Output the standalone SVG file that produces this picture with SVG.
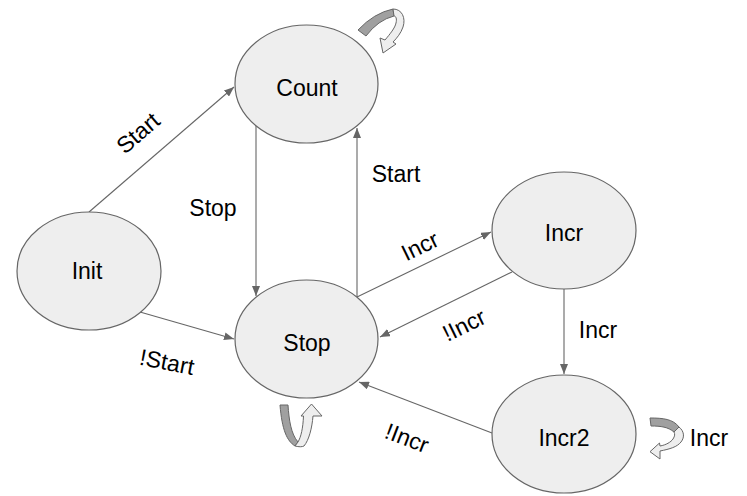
<svg xmlns="http://www.w3.org/2000/svg" width="747" height="496" viewBox="0 0 747 496">
<style>
.node{fill:#eeeeee;stroke:#666666;stroke-width:1.2}
.t{font-family:"Liberation Sans",Arial,sans-serif;font-size:23px;fill:#000;text-anchor:middle}
.e{stroke:#666666;stroke-width:1.1;fill:none;marker-end:url(#ah)}
.dk{fill:#a0a0a0;stroke:#666666;stroke-width:1}
.lt{fill:#eeeeee;stroke:#666666;stroke-width:1}
</style>
<defs>
<marker id="ah" markerUnits="userSpaceOnUse" markerWidth="11" markerHeight="8" refX="10" refY="4" orient="auto">
<path d="M0,0 L10,4 L0,8 Z" fill="#666666"/>
</marker>
</defs>
<rect width="747" height="496" fill="#ffffff"/>
<g id="connectors">
<path class="e" d="M89,212 L234,87"/>
<path class="e" d="M256,125 L256,296"/>
<path class="e" d="M357,297 L357,128"/>
<path class="e" d="M357,297 L491,232"/>
<path class="e" d="M512,272 L380,337"/>
<path class="e" d="M140,312 L234,339"/>
<path class="e" d="M564,289 L564,374"/>
<path class="e" d="M492,433 L359,382"/>
</g>
<g id="labels">
<text class="t" transform="translate(138,133) rotate(-41)" y="8">Start</text>
<text class="t" x="213" y="216">Stop</text>
<text class="t" x="396" y="182">Start</text>
<text class="t" transform="translate(167,362) rotate(11)" y="8">!Start</text>
<text class="t" transform="translate(420,246) rotate(-26)" y="8">Incr</text>
<text class="t" transform="translate(464,325) rotate(-26)" y="8">!Incr</text>
<text class="t" transform="translate(407,438) rotate(21)" y="8">!Incr</text>
<text class="t" x="598" y="338">Incr</text>
<text class="t" x="709" y="446">Incr</text>
</g>
<g id="node-count">
<ellipse class="node" cx="306.5" cy="84" rx="71.5" ry="59"/>
<text class="t" x="307" y="96">Count</text>
</g>
<g id="node-init">
<ellipse class="node" cx="89" cy="271" rx="72" ry="59"/>
<text class="t" x="87" y="279">Init</text>
</g>
<g id="node-stop">
<ellipse class="node" cx="306.5" cy="339" rx="71.5" ry="59"/>
<text class="t" x="307" y="351">Stop</text>
</g>
<g id="node-incr">
<ellipse class="node" cx="564" cy="230.5" rx="72" ry="58.5"/>
<text class="t" x="564" y="241">Incr</text>
</g>
<g id="node-incr2">
<ellipse class="node" cx="564" cy="434" rx="72" ry="59"/>
<text class="t" x="564" y="446">Incr2</text>
</g>
<g id="loop-count">
<path class="dk" d="M358,30 Q374,13 393,9 L394,16 Q378,20 366,36 Z"/>
<path class="lt" d="M393,9 C402,9 406,18 403,27 C401,33 397,38 393,42 L396,44 L383,53 L380,38 L385,40 C390,34 395,28 396,23 C397,19 396,16 394,16 Z"/>
</g>
<g id="loop-stop">
<path class="dk" d="M280,405 L288,405 C289,420 291,434 298,442 L295,446 C287,441 282,430 280,405 Z"/>
<path class="lt" d="M295,446 C299,447 302,447 304,446 C309,440 312,428 313,416 L322,416 L311.5,404 L301,416 L303.5,416 C303,428 301,437 298,442 Z"/>
</g>
<g id="loop-incr2">
<path class="dk" d="M650,418 C663,418 673,419 679,427 L674,432 C668,427 661,426 651,426 Z"/>
<path class="lt" d="M679,427 C684,431 685,437 681,442 C677,447 670,449 660,451 L660,459 L650,451.7 L659.5,443 L660,446 C666,445 671,442 673,439 C675,436 675,434 674,432 Z"/>
</g>
</svg>
